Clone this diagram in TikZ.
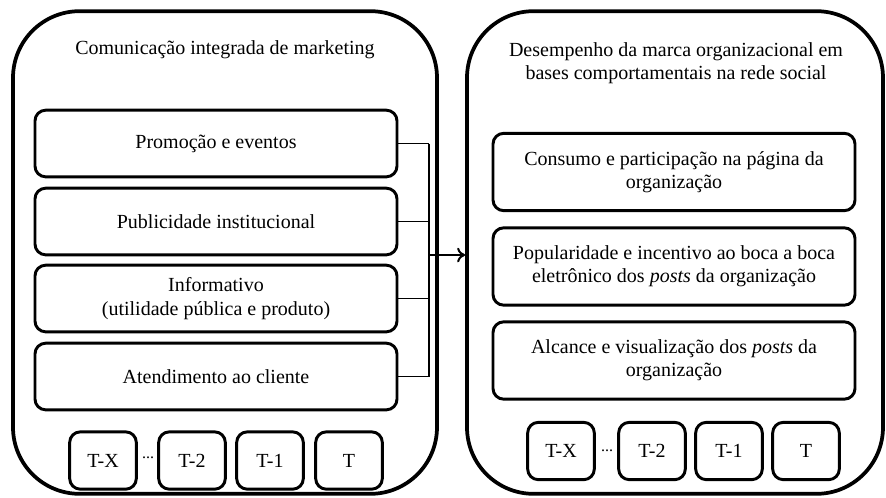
\documentclass[tikz,border=0pt]{standalone}
\usepackage{fontspec}
\setmainfont{Liberation Serif}
\usetikzlibrary{arrows.meta,calc}

\begin{document}
\begin{tikzpicture}[x=0.75pt,y=-0.75pt,
  font=\fontsize{15}{17.5}\selectfont,
  bigbox/.style={draw,line width=2.8pt,rounded corners=50pt,minimum width=318pt,minimum height=362pt},
  itembox/.style={draw,line width=2.2pt,rounded corners=8pt,minimum width=271.5pt,minimum height=50pt,align=center},
  tbox/.style={draw,line width=2.2pt,rounded corners=8pt,minimum width=50pt,minimum height=43pt},
  link/.style={line width=0.8pt}]
\useasboundingbox (0,0) rectangle (886,497);
\node[bigbox] (cim) at (225,252.5) {};
\node[bigbox,minimum width=312pt] (dmo) at (675,252.5) {};
\node (cimtit) at (225,50) {Comunicação integrada de marketing};
\node[align=center] (dmotit) at (676,63) {Desempenho da marca organizacional em\\bases comportamentais na rede social};

\node[itembox] (pro) at (216,143.5) {Promoção e eventos};
\node[itembox] (pub) at (216,221.5) {Publicidade institucional};
\node[itembox] (inf) at (216,298.5) {Informativo\\(utilidade pública e produto)};
\node[itembox] (ate) at (216,376.5) {Atendimento ao cliente};

\node[itembox,minimum height=58pt] (con) at (674,172) {Consumo e participação na página da\\organização};
\node[itembox,minimum height=58pt] (pop) at (674,266.5) {Popularidade e incentivo ao boca a boca\\eletrônico dos \textit{posts} da organização};
\node[itembox,minimum height=58pt] (alc) at (674,360.5) {Alcance e visualização dos \textit{posts} da\\organização};

\foreach \x/\t/\n in {103/T-X/a,192/T-2/b,270/T-1/c,349/T/d}
  \node[tbox] (lt\n) at (\x,460.5) {\t};
\foreach \x/\t/\n in {561/T-X/a,652/T-2/b,729/T-1/c,806/T/d}
  \node[tbox] (rt\n) at (\x,451) {\t};
\node[font=\fontsize{12}{12}\selectfont] (ldots) at (148,458) {...};
\node[font=\fontsize{12}{12}\selectfont] (rdots) at (607,451) {...};

\coordinate (bus) at (429,255);
\foreach \b in {pro,pub,inf,ate}
  \draw[link] (\b.east) -- (\b.east -| bus);
\draw[link] (pro.east -| bus) -- (ate.east -| bus);
\draw[line width=1.5pt,-{To[length=6pt,width=11pt]}] (bus) -- (bus -| dmo.west);
\end{tikzpicture}
\end{document}
